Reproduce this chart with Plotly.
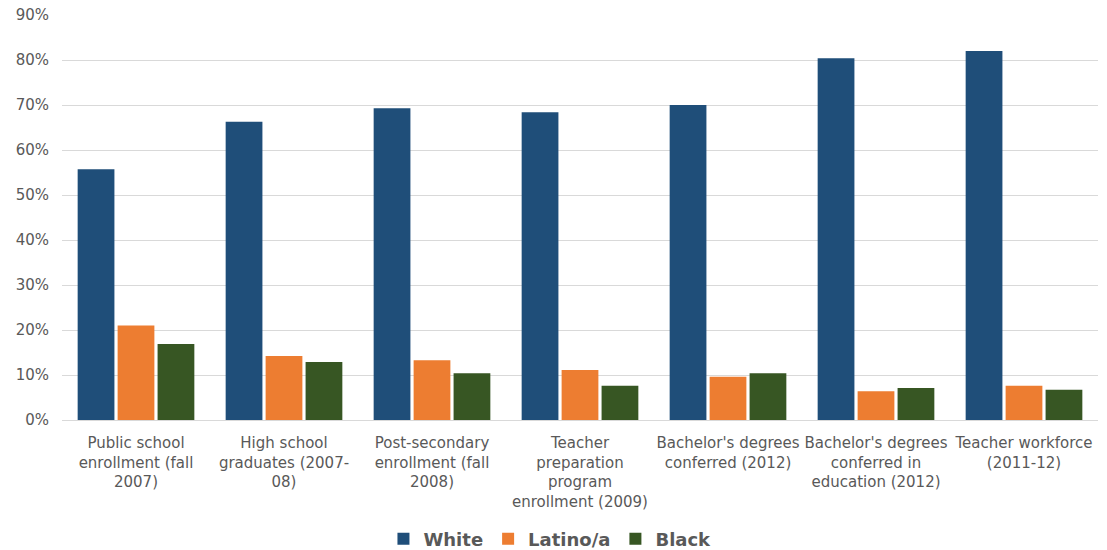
import plotly.graph_objects as go

categories = [
    "Public school<br>enrollment (fall<br>2007)",
    "High school<br>graduates (2007-<br>08)",
    "Post-secondary<br>enrollment (fall<br>2008)",
    "Teacher<br>preparation<br>program<br>enrollment (2009)",
    "Bachelor's degrees<br>conferred (2012)",
    "Bachelor's degrees<br>conferred in<br>education (2012)",
    "Teacher workforce<br>(2011-12)",
]
white = [0.557, 0.663, 0.693, 0.684, 0.700, 0.804, 0.820]
latino = [0.210, 0.142, 0.133, 0.111, 0.096, 0.064, 0.076]
black = [0.169, 0.129, 0.104, 0.076, 0.104, 0.071, 0.067]

series = [("White", white, "#1F4E79"), ("Latino/a", latino, "#ED7D31"), ("Black", black, "#375623")]

fig = go.Figure()
for name, vals, color in series:
    fig.add_trace(go.Bar(x=categories, y=vals, name=name, marker=dict(color=color, line=dict(width=0))))

fig.update_layout(
    width=1107, height=550,
    margin=dict(l=62, r=9, t=15, b=130, autoexpand=False),
    paper_bgcolor="white", plot_bgcolor="white",
    barmode="group", bargap=0.19, bargroupgap=0.08,
    font=dict(family="DejaVu Sans, Liberation Sans, sans-serif", size=15, color="#595959"),
    legend=dict(orientation="h", x=0.471, xanchor="center", y=-0.294, yanchor="middle",
                font=dict(size=18, color="#595959", weight="bold"),
                itemwidth=30, traceorder="normal"),
    showlegend=True,
)
fig.update_yaxes(range=[0, 0.9], dtick=0.1, tickformat=".0%", showgrid=True,
                 gridcolor="#D9D9D9", gridwidth=1, zeroline=False, ticks="",
                 ticklabelstandoff=12, automargin=False,
                 tickfont=dict(size=15, color="#595959"))
fig.update_xaxes(showline=True, linecolor="#D9D9D9", linewidth=1, ticks="",
                 automargin=False, ticklabelstandoff=9,
                 tickfont=dict(size=15, color="#595959"), tickangle=0)

fig.write_html("out.html")
